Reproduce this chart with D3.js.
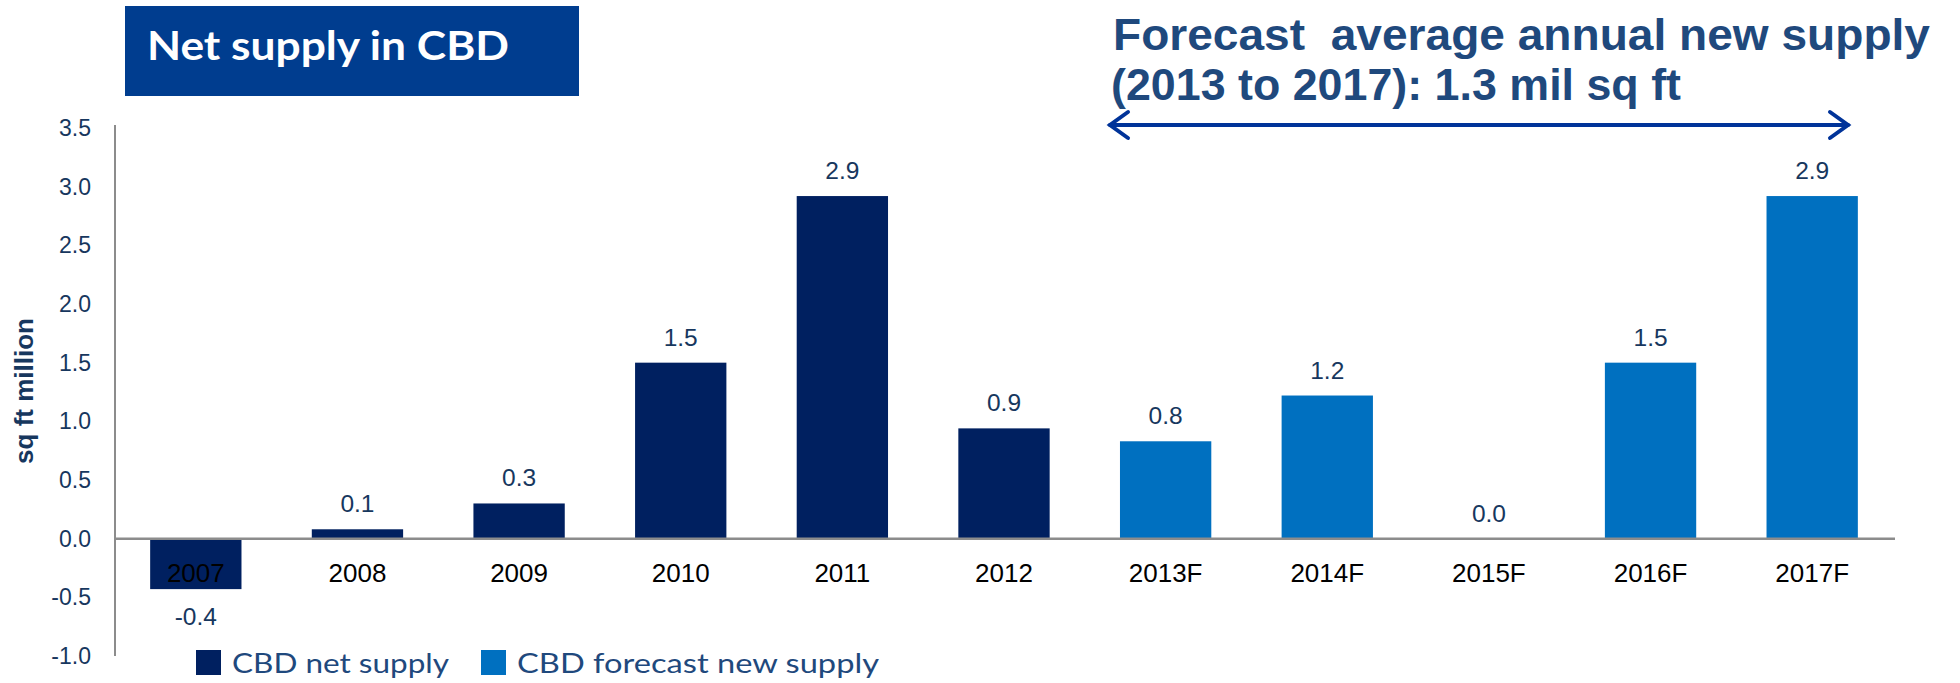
<!DOCTYPE html>
<html>
<head>
<meta charset="utf-8">
<script src="https://cdn.jsdelivr.net/npm/d3@7"></script>
<style>
  body { margin: 0; background: #fff; }
  svg { display: block; }
</style>
</head>
<body>
<div id="chart"></div>
<script>
// chart data
var years = ["2007", "2008", "2009", "2010", "2011", "2012", "2013F", "2014F", "2015F", "2016F", "2017F"];
var supply = [-0.43, 0.08, 0.3, 1.5, 2.92, 0.94, 0.83, 1.22, 0, 1.5, 2.92];
var isForecast = [false, false, false, false, false, false, true, true, true, true, true];
var yTicks = [-1.0, -0.5, 0.0, 0.5, 1.0, 1.5, 2.0, 2.5, 3.0, 3.5];
var seriesNames = ["CBD net supply", "CBD forecast new supply"];

var width = 1960, height = 683;
var navy = "#002060", blue = "#0070c0", textNavy = "#17375e";

// one decimal, plain hyphen for negatives like the source
var fmt = function(v) { return d3.format(".1f")(v).replace("\u2212", "-"); };

var svg = d3.select("#chart").append("svg")
  .attr("width", width)
  .attr("height", height);

// scales
var x = d3.scaleBand()
  .domain(years)
  .range([115, 1893])
  .paddingInner(0.435)
  .paddingOuter(0.2175);

var y = d3.scaleLinear()
  .domain([-1, 3.5])
  .range([656, 128]);

// title box
svg.append("rect")
  .attr("x", 125).attr("y", 6)
  .attr("width", 454).attr("height", 90)
  .attr("fill", "#003d8f");

svg.append("text")
  .attr("x", 147).attr("y", 60)
  .attr("font-family", "Lato, 'Noto Sans', sans-serif")
  .attr("font-weight", "bold")
  .attr("font-size", 40)
  .attr("fill", "#fff")
  .attr("textLength", 362)
  .attr("lengthAdjust", "spacingAndGlyphs")
  .text("Net supply in CBD");

// forecast annotation
var note = svg.append("g")
  .attr("font-family", "'Liberation Sans', Arial, sans-serif")
  .attr("font-weight", "bold")
  .attr("font-size", 44)
  .attr("fill", "#1f497d");

note.append("text")
  .attr("x", 1113).attr("y", 50)
  .attr("textLength", 817)
  .attr("lengthAdjust", "spacingAndGlyphs")
  .attr("xml:space", "preserve")
  .text("Forecast  average annual new supply");

note.append("text")
  .attr("x", 1111).attr("y", 100)
  .attr("textLength", 570)
  .attr("lengthAdjust", "spacingAndGlyphs")
  .text("(2013 to 2017): 1.3 mil sq ft");

// double arrow over the forecast years
var arrowY = 125, ax0 = 1110, ax1 = 1848, head = 18;
var arrow = svg.append("g")
  .attr("stroke", "#003399")
  .attr("stroke-width", 4)
  .attr("fill", "none")
  .attr("stroke-linecap", "round");
arrow.append("line")
  .attr("x1", ax0).attr("x2", ax1)
  .attr("y1", arrowY).attr("y2", arrowY);
arrow.append("path")
  .attr("d", "M" + (ax0 + head) + "," + (arrowY - 13) + "L" + ax0 + "," + arrowY + "L" + (ax0 + head) + "," + (arrowY + 13));
arrow.append("path")
  .attr("d", "M" + (ax1 - head) + "," + (arrowY - 13) + "L" + ax1 + "," + arrowY + "L" + (ax1 - head) + "," + (arrowY + 13));

// bars
svg.append("g")
  .selectAll("rect")
  .data(years)
  .enter().append("rect")
    .attr("x", function(d) { return x(d); })
    .attr("width", x.bandwidth())
    .attr("y", function(d, i) { return y(Math.max(0, supply[i])); })
    .attr("height", function(d, i) { return Math.abs(y(supply[i]) - y(0)); })
    .attr("fill", function(d, i) { return isForecast[i] ? blue : navy; });

// axes
svg.append("line")
  .attr("x1", 115).attr("x2", 115)
  .attr("y1", y(3.5) - 3).attr("y2", y(-1))
  .attr("stroke", "#8c8c8c")
  .attr("stroke-width", 2);

svg.append("line")
  .attr("x1", 115).attr("x2", 1895)
  .attr("y1", y(0)).attr("y2", y(0))
  .attr("stroke", "#8c8c8c")
  .attr("stroke-width", 2.5);

svg.append("g")
  .attr("font-family", "'Liberation Sans', Arial, sans-serif")
  .attr("font-size", 23)
  .attr("fill", textNavy)
  .attr("text-anchor", "end")
  .selectAll("text")
  .data(yTicks)
  .enter().append("text")
    .attr("x", 91)
    .attr("y", function(d) { return y(d); })
    .attr("dy", "0.35em")
    .text(fmt);

svg.append("text")
  .attr("transform", "translate(33,391) rotate(-90)")
  .attr("text-anchor", "middle")
  .attr("font-family", "'Liberation Sans', Arial, sans-serif")
  .attr("font-weight", "bold")
  .attr("font-size", 26)
  .attr("fill", textNavy)
  .text("sq ft million");

// category labels
svg.append("g")
  .attr("font-family", "'Liberation Sans', Arial, sans-serif")
  .attr("font-size", 26)
  .attr("fill", "#000")
  .attr("text-anchor", "middle")
  .selectAll("text")
  .data(years)
  .enter().append("text")
    .attr("x", function(d) { return x(d) + x.bandwidth() / 2; })
    .attr("y", 582)
    .text(function(d) { return d; });

// value labels
svg.append("g")
  .attr("font-family", "'Liberation Sans', Arial, sans-serif")
  .attr("font-size", 24.5)
  .attr("fill", textNavy)
  .attr("text-anchor", "middle")
  .selectAll("text")
  .data(years)
  .enter().append("text")
    .attr("x", function(d) { return x(d) + x.bandwidth() / 2; })
    .attr("y", function(d, i) {
      return supply[i] < 0 ? y(supply[i]) + 36 : y(supply[i]) - 17;
    })
    .text(function(d, i) { return fmt(supply[i]); });

// legend
var legend = svg.append("g")
  .attr("font-family", "Lato, 'Noto Sans', sans-serif")
  .attr("font-size", 27)
  .attr("fill", "#1f497d");

var legendX = [196, 481], legendW = [217, 362];
seriesNames.forEach(function(name, i) {
  legend.append("rect")
    .attr("x", legendX[i]).attr("y", 650)
    .attr("width", 25).attr("height", 25)
    .attr("fill", i === 0 ? navy : blue);
  legend.append("text")
    .attr("x", legendX[i] + 36).attr("y", 673)
    .attr("textLength", legendW[i])
    .attr("lengthAdjust", "spacingAndGlyphs")
    .text(name);
});
</script>
</body>
</html>
